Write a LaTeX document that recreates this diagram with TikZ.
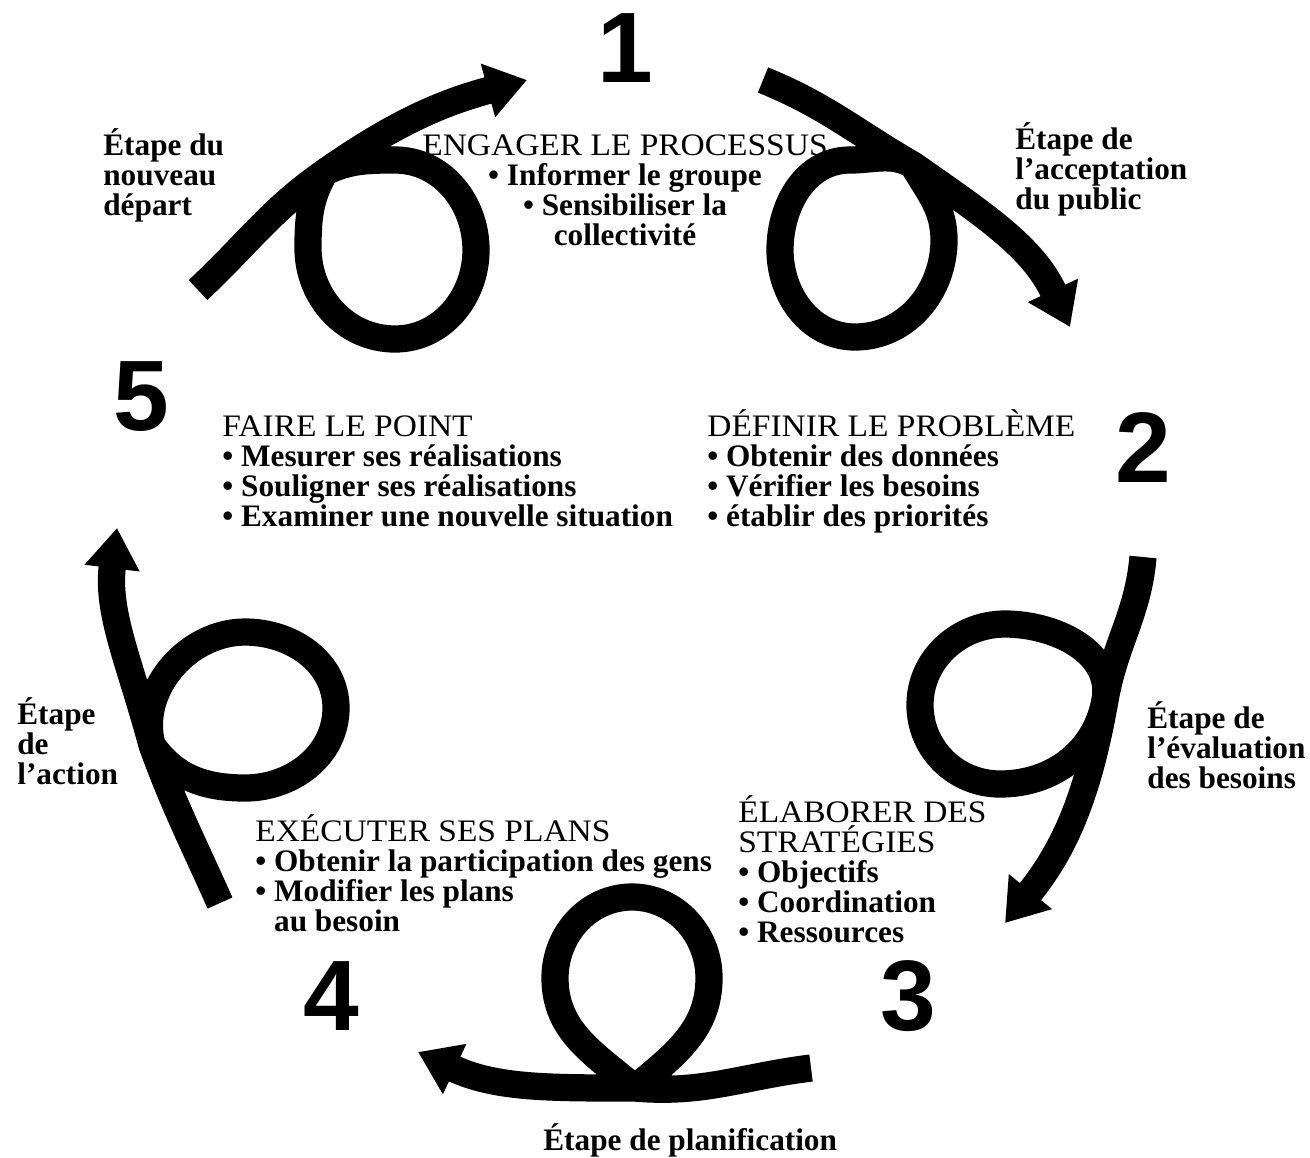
\documentclass[tikz,border=0pt]{standalone}
\usepackage{fontspec}
\setmainfont{Liberation Serif}
\newfontfamily\numfont{Liberation Sans}
\newfontfamily\headfont[FakeStretch=1.07]{Liberation Serif}
\usetikzlibrary{arrows.meta}

\begin{document}
\begin{tikzpicture}[x=0.02cm,y=0.02cm,
    loopy/.style={line width=15.5pt,line join=round,-{Triangle[length=23pt,width=30pt]}},
    num/.style={inner sep=0pt,anchor=base,font=\numfont\bfseries\fontsize{57}{57}\selectfont},
    txt/.style={inner sep=0pt,anchor=base west,align=left,font=\fontsize{17.8}{17}\selectfont\bfseries},
    ctxt/.style={txt,anchor=base,align=center}]
  \useasboundingbox (0,0) rectangle (1310,-1157);
  \def\hd{\headfont\mdseries}

  % stage numbers
  \node[num] (n1) at (625,-82) {1};
  \node[num] (n2) at (1143,-482) {2};
  \node[num] (n3) at (908,-1030) {3};
  \node[num] (n4) at (331,-1030) {4};
  \node[num] (n5) at (141,-430) {5};

  % what to do at each stage (base = last line)
  \node[ctxt] (engager) at (625,-245)
    {\hd ENGAGER LE PROCESSUS\\ • Informer le groupe\\ • Sensibiliser la\\ collectivité};
  \node[txt] (definir) at (707,-526)
    {\hd DÉFINIR LE PROBLÈME\\ • Obtenir des données\\ • Vérifier les besoins\\ • établir des priorités};
  \node[txt] (elaborer) at (738,-942)
    {\hd ÉLABORER DES\\\hd STRATÉGIES\\ • Objectifs\\ • Coordination\\ • Ressources};
  \node[txt] (executer) at (255,-931)
    {\hd EXÉCUTER SES PLANS\\ • Obtenir la participation des gens\\ • Modifier les plans\\ \phantom{• }au besoin};
  \node[txt] (faire) at (222,-526)
    {\hd FAIRE LE POINT\\ • Mesurer ses réalisations\\ • Souligner ses réalisations\\ • Examiner une nouvelle situation};

  % names of the steps
  \node[txt] (etdepart) at (103,-215) {Étape du\\nouveau\\départ};
  \node[txt] (etpublic) at (1015,-209) {Étape de\\l’acceptation\\du public};
  \node[txt] (etbesoins) at (1147,-788) {Étape de\\l’évaluation\\des besoins};
  \node[txt] (etplan) at (543,-1150) {Étape de planification};
  \node[txt] (etaction) at (17,-784) {Étape\\de\\l’action};

  % loop 5 -> 1
  \coordinate (a0) at (198,-290);
  \coordinate (ax) at (325,-172);
  \coordinate (a1) at (527,-80);
  \draw[loopy] (a0) to[out=43,in=215] (ax) to[out=25,in=180] (395,-160)
    to[out=0,in=90] (476,-250) to[out=-90,in=0] (395,-339)
    to[out=180,in=-90] (308,-248) to[out=90,in=240] (ax) to[out=35,in=195] (a1);

  % loop 1 -> 2
  \coordinate (b0) at (763,-80);
  \coordinate (bx) at (913,-165);
  \coordinate (b1) at (1070,-327);
  \draw[loopy] (b0) to[out=-22,in=150] (bx) to[out=-60,in=90] (944,-240)
    to[out=-90,in=0] (855,-337) to[out=180,in=-90] (780,-250)
    to[out=90,in=180] (850,-160) to[out=0,in=150] (bx) to[out=-35,in=115] (b1);

  % loop 2 -> 3
  \coordinate (c0) at (1143,-557);
  \coordinate (cx) at (1105,-700);
  \coordinate (c1) at (1005,-923);
  \draw[loopy] (c0) to[out=-95,in=80] (cx) to[out=-100,in=0] (1000,-784)
    to[out=180,in=-90] (920,-705) to[out=90,in=180] (1005,-624)
    to[out=0,in=80] (cx) to[out=-100,in=51] (c1);

  % loop 3 -> 4
  \coordinate (d0) at (811,-1068);
  \coordinate (dx) at (635,-1088);
  \coordinate (d1) at (418,-1052);
  \draw[loopy] (d0) to[out=187,in=-5] (dx) to[out=140,in=-90] (555,-978)
    to[out=90,in=180] (632,-897) to[out=0,in=90] (709,-978)
    to[out=-90,in=40] (dx) to[out=180,in=-25] (d1);

  % loop 4 -> 5
  \coordinate (e0) at (220,-903);
  \coordinate (ex) at (152,-745);
  \coordinate (e1) at (117,-528);
  \draw[loopy] (e0) to[out=114,in=-70] (ex) to[out=105,in=180] (245,-632)
    to[out=0,in=90] (336,-708) to[out=-90,in=0] (245,-788)
    to[out=180,in=-55] (ex) to[out=105,in=-97] (e1);
\end{tikzpicture}
\end{document}
